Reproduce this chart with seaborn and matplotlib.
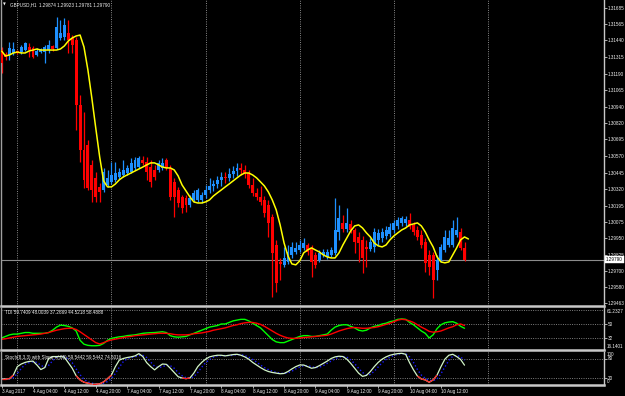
import numpy as np
import pandas as pd
import matplotlib
matplotlib.use("Agg")
import matplotlib.pyplot as plt
import matplotlib.transforms as mtrans
from matplotlib.collections import LineCollection
import seaborn as sns

# ---------------- data ----------------
header_text = "GBPUSD,H1  1.29874 1.29923 1.29781 1.29790"
tdi_text = "TDI 59.7409 48.0039 37.2669 44.5218 58.4888"
stoch_text = "Stoch(8,3,3) with Slope +(.05) 59.5442 59.5442 74.5016"

open_ = [1.31368, 1.31338, 1.31331, 1.31346, 1.31361, 1.31353, 1.31368, 1.31391, 1.31384, 1.31331,
         1.31353, 1.31353, 1.31368, 1.31399, 1.31384, 1.31459, 1.31466, 1.31497, 1.31459, 1.31444,
         1.30954, 1.30615, 1.30653, 1.30503, 1.30405, 1.30337, 1.30314, 1.30352, 1.30375, 1.30390,
         1.30412, 1.30427, 1.30442, 1.30450, 1.30480, 1.30487, 1.30540, 1.30525, 1.30487, 1.30465,
         1.30465, 1.30480, 1.30540, 1.30480, 1.30375, 1.30314, 1.30262, 1.30254, 1.30201, 1.30239,
         1.30239, 1.30239, 1.30277, 1.30314, 1.30344, 1.30359, 1.30390, 1.30412, 1.30405, 1.30435,
         1.30457, 1.30480, 1.30465, 1.30442, 1.30352, 1.30292, 1.30262, 1.30239, 1.30201, 1.30111,
         1.29900, 1.29772, 1.29750, 1.29772, 1.29825, 1.29847, 1.29862, 1.29878, 1.29900, 1.29878,
         1.29825, 1.29787, 1.29825, 1.29810, 1.29825, 1.29840, 1.29998, 1.30066, 1.30021, 1.30058,
         1.30013, 1.29960, 1.29938, 1.29885, 1.29870, 1.29885, 1.29938, 1.29953, 1.29968, 1.29983,
         1.30013, 1.30043, 1.30066, 1.30066, 1.30088, 1.30051, 1.30013, 1.29975, 1.29923, 1.29825,
         1.29825, 1.29712, 1.29787, 1.29862, 1.29900, 1.29900, 1.29975, 1.29998, 1.29874]
high = [1.31391, 1.31353, 1.31429, 1.31429, 1.31368, 1.31406, 1.31429, 1.31421, 1.31399, 1.31384,
        1.31384, 1.31406, 1.31444, 1.31406, 1.31617, 1.31594, 1.31609, 1.31594, 1.31481, 1.31466,
        1.31030, 1.30902, 1.30691, 1.30540, 1.30450, 1.30367, 1.30480, 1.30465, 1.30525, 1.30525,
        1.30480, 1.30540, 1.30503, 1.30555, 1.30563, 1.30570, 1.30570, 1.30563, 1.30540, 1.30503,
        1.30540, 1.30555, 1.30555, 1.30503, 1.30405, 1.30337, 1.30277, 1.30277, 1.30277, 1.30314,
        1.30329, 1.30299, 1.30352, 1.30405, 1.30390, 1.30420, 1.30450, 1.30450, 1.30480, 1.30495,
        1.30518, 1.30518, 1.30503, 1.30465, 1.30405, 1.30329, 1.30344, 1.30269, 1.30239, 1.30134,
        1.29938, 1.29802, 1.29885, 1.29900, 1.29923, 1.29923, 1.29938, 1.29953, 1.29915, 1.29900,
        1.29847, 1.29862, 1.29870, 1.29870, 1.29885, 1.30254, 1.30201, 1.30126, 1.30179, 1.30088,
        1.30028, 1.29998, 1.29968, 1.29938, 1.29953, 1.30028, 1.30021, 1.30028, 1.30043, 1.30066,
        1.30088, 1.30111, 1.30119, 1.30119, 1.30141, 1.30073, 1.30043, 1.30013, 1.29953, 1.29862,
        1.29847, 1.29825, 1.29908, 1.30013, 1.30013, 1.30088, 1.30111, 1.30028, 1.29923]
low = [1.31195, 1.31293, 1.31293, 1.31331, 1.31338, 1.31338, 1.31361, 1.31316, 1.31308, 1.31323,
       1.31346, 1.31271, 1.31346, 1.31361, 1.31376, 1.31444, 1.31444, 1.31346, 1.31346, 1.30766,
       1.30525, 1.30329, 1.30314, 1.30224, 1.30224, 1.30224, 1.30299, 1.30337, 1.30359, 1.30375,
       1.30397, 1.30412, 1.30427, 1.30442, 1.30465, 1.30480, 1.30503, 1.30390, 1.30337, 1.30390,
       1.30450, 1.30465, 1.30465, 1.30239, 1.30111, 1.30186, 1.30141, 1.30149, 1.30186, 1.30224,
       1.30224, 1.30216, 1.30254, 1.30292, 1.30307, 1.30329, 1.30344, 1.30367, 1.30382, 1.30405,
       1.30420, 1.30427, 1.30405, 1.30329, 1.30269, 1.30239, 1.30201, 1.30111, 1.29960, 1.29509,
       1.29546, 1.29637, 1.29734, 1.29757, 1.29802, 1.29832, 1.29847, 1.29862, 1.29825, 1.29659,
       1.29727, 1.29772, 1.29810, 1.29795, 1.29810, 1.29825, 1.29938, 1.29998, 1.29998, 1.29991,
       1.29840, 1.29772, 1.29689, 1.29734, 1.29855, 1.29847, 1.29900, 1.29923, 1.29945, 1.29960,
       1.29991, 1.30021, 1.30043, 1.30043, 1.30021, 1.29975, 1.29938, 1.29878, 1.29697, 1.29674,
       1.29501, 1.29637, 1.29772, 1.29847, 1.29885, 1.29885, 1.29960, 1.29862, 1.29781]
close = [1.31271, 1.31316, 1.31384, 1.31376, 1.31346, 1.31391, 1.31421, 1.31368, 1.31316, 1.31361,
         1.31376, 1.31391, 1.31406, 1.31376, 1.31542, 1.31497, 1.31557, 1.31444, 1.31406, 1.30954,
         1.30615, 1.30390, 1.30329, 1.30314, 1.30262, 1.30299, 1.30450, 1.30405, 1.30427, 1.30442,
         1.30450, 1.30465, 1.30480, 1.30518, 1.30540, 1.30555, 1.30518, 1.30450, 1.30375, 1.30412,
         1.30518, 1.30518, 1.30480, 1.30262, 1.30262, 1.30216, 1.30179, 1.30201, 1.30254, 1.30292,
         1.30314, 1.30277, 1.30314, 1.30344, 1.30359, 1.30390, 1.30412, 1.30405, 1.30435, 1.30457,
         1.30480, 1.30465, 1.30442, 1.30352, 1.30292, 1.30262, 1.30224, 1.30141, 1.30066, 1.29840,
         1.29614, 1.29757, 1.29802, 1.29847, 1.29885, 1.29878, 1.29900, 1.29915, 1.29847, 1.29772,
         1.29750, 1.29840, 1.29847, 1.29847, 1.29862, 1.30013, 1.30103, 1.30021, 1.30066, 1.30013,
         1.29923, 1.29915, 1.29802, 1.29870, 1.29923, 1.29998, 1.29991, 1.29998, 1.30013, 1.30036,
         1.30066, 1.30088, 1.30103, 1.30096, 1.30036, 1.29998, 1.29960, 1.29900, 1.29765, 1.29734,
         1.29637, 1.29787, 1.29885, 1.29960, 1.29953, 1.30028, 1.30013, 1.29878, 1.29790]

ma_yellow = [1.31361, 1.31323, 1.31331, 1.31346, 1.31353, 1.31346, 1.31346, 1.31361, 1.31368, 1.31376,
             1.31368, 1.31368, 1.31368, 1.31368, 1.31368, 1.31376, 1.31399, 1.31436, 1.31459, 1.31474,
             1.31481, 1.31391, 1.31218, 1.31007, 1.30781, 1.30563, 1.30382, 1.30337, 1.30337, 1.30359,
             1.30390, 1.30412, 1.30427, 1.30442, 1.30457, 1.30472, 1.30487, 1.30503, 1.30518, 1.30518,
             1.30503, 1.30487, 1.30480, 1.30480, 1.30465, 1.30420, 1.30352, 1.30307, 1.30262, 1.30224,
             1.30216, 1.30216, 1.30224, 1.30239, 1.30269, 1.30292, 1.30314, 1.30337, 1.30359, 1.30382,
             1.30405, 1.30427, 1.30442, 1.30442, 1.30427, 1.30405, 1.30375, 1.30344, 1.30299, 1.30239,
             1.30164, 1.30051, 1.29915, 1.29817, 1.29757, 1.29750, 1.29780, 1.29840, 1.29862, 1.29878,
             1.29862, 1.29847, 1.29825, 1.29810, 1.29802, 1.29802, 1.29840, 1.29900, 1.29953, 1.30006,
             1.30043, 1.30051, 1.30028, 1.29991, 1.29960, 1.29915, 1.29893, 1.29885, 1.29900, 1.29938,
             1.29968, 1.29991, 1.30013, 1.30028, 1.30051, 1.30058, 1.30066, 1.30043, 1.29998, 1.29938,
             1.29885, 1.29810, 1.29772, 1.29765, 1.29772, 1.29825, 1.29878, 1.29938, 1.29960, 1.29945]

tdi_green = [32, 34, 36, 37, 37, 38, 39, 39, 38, 38, 38, 38, 39, 42, 46, 48.5, 48, 47, 45, 41,
             29, 24, 22.5, 22, 22, 22.5, 25, 29, 31.5, 32.5, 33.5, 34, 35, 35.5, 36, 37, 38, 38.5, 38.8, 39,
             39.5, 40, 39, 35, 33.5, 33, 33.5, 34, 36, 38, 40, 42, 44, 46, 47, 48, 50, 50, 52, 54,
             55, 56, 56, 54, 51, 48, 45, 40, 35, 30, 27, 26, 26, 28, 30, 32, 34, 35, 35, 34,
             34, 35, 36, 37, 42, 46, 48, 49, 49, 47, 45, 42, 41, 42, 45, 47, 48, 50, 51, 53,
             54, 56, 56.5, 56, 52, 49, 45, 41, 38, 32, 36, 44, 49, 51.5, 52.5, 53, 51, 47, 44.5]
tdi_red = [30.3, 31, 32, 33, 34, 34.5, 35, 35.5, 36, 36.5, 37, 38, 39, 40.5, 42, 43, 44, 44.5, 44.5, 43,
           40, 36.5, 33, 29.5, 26, 24.3, 26, 28, 29.5, 30.5, 31.5, 32.5, 33.5, 34, 35, 35.5, 36, 36.5, 37, 37.5,
           38, 38, 38, 37.5, 36.5, 36, 36, 36, 36.5, 37.5, 38, 38.5, 39.5, 40.5, 42, 43, 44, 45, 46.5, 48,
           49, 50.5, 51.5, 52, 52, 51, 49.5, 47, 44, 41, 38, 35.5, 33.5, 32, 31.5, 31.5, 32, 32.5, 33, 33.5,
           34, 34.5, 35, 35.5, 37, 39, 41, 42.5, 44, 45, 45.5, 45, 44.5, 44.5, 45, 45.5, 46.5, 48, 49.5, 51,
           53, 55, 56, 55.5, 54, 52, 49, 46, 43.5, 40.5, 39.5, 40, 41, 43, 45, 46.5, 49, 50, 48]

stoch_main = [17, 17, 18, 29, 55, 63, 68, 71, 72, 60, 46, 52, 80, 86, 86, 86, 84, 67, 50, 27,
              14, 7, 4, 1, 1, 2, 8, 18, 29, 55, 75, 80, 83, 85, 88, 95, 86, 67, 55, 45,
              55, 63, 62, 50, 37, 24, 20, 18, 20, 35, 55, 68, 78, 85, 88, 90, 90, 88, 90, 92,
              93, 90, 85, 78, 68, 60, 52, 45, 40, 37, 35, 33, 34, 40, 48, 55, 60, 60, 55, 50,
              52, 58, 65, 72, 80, 85, 87, 86, 78, 65, 50, 35, 25, 28, 40, 55, 68, 78, 85, 90,
              93, 95, 96, 93, 67, 45, 26, 17, 14, 7, 14, 29, 55, 78, 90, 93, 86, 77, 59.5]
stoch_signal = [18, 17, 17, 21, 34, 49, 62, 67, 70, 68, 59, 53, 59, 73, 84, 86, 85, 79, 67, 48,
                30, 16, 8, 4, 2, 1, 4, 9, 18, 34, 53, 70, 79, 83, 85, 89, 90, 83, 69, 56,
                52, 54, 60, 58, 50, 37, 27, 21, 19, 24, 37, 53, 67, 77, 84, 88, 89, 89, 89, 90,
                92, 92, 89, 84, 77, 69, 60, 52, 46, 41, 37, 35, 34, 36, 41, 48, 54, 58, 58, 55,
                52, 53, 58, 65, 72, 79, 84, 86, 84, 76, 64, 50, 37, 29, 31, 41, 54, 67, 77, 84,
                89, 93, 95, 95, 85, 68, 46, 29, 19, 13, 12, 17, 33, 54, 74, 87, 90, 85, 74.5]

price_tick_labels = ["1.31685", "1.31565", "1.31440", "1.31315", "1.31190", "1.31065", "1.30940",
                     "1.30820", "1.30695", "1.30570", "1.30445", "1.30320", "1.30195", "1.30075",
                     "1.29950", "1.29825", "1.29700", "1.29580", "1.29463"]
last_price = 1.29790
price_range = (1.29440, 1.31745)

time_labels = ["3 Aug 2017", "4 Aug 04:00", "4 Aug 12:00", "4 Aug 20:00", "7 Aug 04:00",
               "7 Aug 12:00", "7 Aug 20:00", "8 Aug 04:00", "8 Aug 12:00", "8 Aug 20:00",
               "9 Aug 04:00", "9 Aug 12:00", "9 Aug 20:00", "10 Aug 04:00", "10 Aug 12:00"]
time_label_bars = [0, 8, 16, 24, 32, 40, 48, 56, 64, 72, 80, 88, 96, 104, 112]
day_start_bars = [4, 28, 52, 76, 100, 124]

tdi_levels = [68, 50, 32]
tdi_range = (16.1401, 71.2327)
tdi_top_label = "61.2327"
tdi_bottom_label = "16.1401"
stoch_levels = [80, 20]

# ---------------- style ----------------
sns.set_theme(style="dark")
plt.rcParams['font.family'] = ['Liberation Sans', 'DejaVu Sans']
FS = 3.3
TXT = '#f0f0f0'
SEP = '#c8c8c8'

W, H = 625, 396
fig = plt.figure(figsize=(6.25, 3.96), dpi=100)
fig.patch.set_facecolor('black')


def add_ax(x0, y0, x1, y1):
    return fig.add_axes([x0 / W, 1 - y1 / H, (x1 - x0) / W, (y1 - y0) / H])


XL = (-0.153, 153.56)
main = add_ax(1, 0, 604, 306)
tdi = add_ax(1, 307.5, 604, 350.3)
sto = add_ax(1, 352, 604, 384.5)

for ax in (main, tdi, sto):
    ax.set_facecolor('black')
    ax.grid(False)
    ax.set_xlim(*XL)
    ax.spines['top'].set_visible(False)
    ax.spines['left'].set_color('#a0a0a0')
    ax.spines['left'].set_linewidth(1.0)
    ax.spines['right'].set_color(SEP)
    ax.spines['right'].set_linewidth(1.0)
    ax.spines['bottom'].set_color(SEP)
    ax.spines['bottom'].set_linewidth(1.8)
    ax.yaxis.tick_right()
    ax.tick_params(axis='y', which='both', left=False, right=True, direction='out',
                   length=2.0, width=0.6, color=SEP, labelcolor=TXT, labelsize=FS, pad=0.8)
    ax.tick_params(axis='x', bottom=False, labelbottom=False)
    for b in day_start_bars:
        ax.axvline(b, color='#b8b8b8', ls=(0, (1.2, 1.8)), lw=0.55, zorder=0.5)

# ---------------- main price panel ----------------
o = np.array(open_); h = np.array(high); l = np.array(low); c = np.array(close)
idx = np.arange(len(o))
cols = np.where(c >= o, '#1e90ff', '#ff0000')
main.vlines(idx, l, h, colors=cols, lw=0.9, zorder=2)
main.bar(idx, np.maximum(np.abs(c - o), 0.00002), bottom=np.minimum(o, c), width=0.75,
         color=cols, linewidth=0, zorder=3)
main.axhline(last_price, color='#8c8c8c', lw=0.8, zorder=1)
sns.lineplot(x=np.arange(len(ma_yellow)), y=ma_yellow, ax=main, color='#ffff00', lw=1.1, zorder=4)
main.set_ylim(*price_range)
main.set_yticks([float(s) for s in price_tick_labels])
main.set_yticklabels(price_tick_labels)
main.set_xlabel(''); main.set_ylabel('')
blend = mtrans.blended_transform_factory(main.transAxes, main.transData)
main.text(1.003, last_price, f"{last_price:.5f}", transform=blend, fontsize=FS, color='black',
          va='center', ha='left',
          bbox=dict(boxstyle='square,pad=0.25', fc='white', ec='white', lw=0.3))

fig.text(3 / W, 1 - 5 / H, "\u25BC", fontsize=2.6, color=TXT, va='center', ha='left',
         family='DejaVu Sans')
fig.text(10 / W, 1 - 5 / H, header_text, fontsize=FS, color=TXT, va='center', ha='left')

# ---------------- TDI panel ----------------
tdi_df = pd.DataFrame({'bar': np.arange(len(tdi_green)), 'green': tdi_green, 'red': tdi_red})
for lv in tdi_levels:
    tdi.axhline(lv, color='#a8a8a8', ls=(0, (1.2, 1.8)), lw=0.55, zorder=0.5)
sns.lineplot(data=tdi_df, x='bar', y='green', ax=tdi, color='#00ff00', lw=1.0)
sns.lineplot(data=tdi_df, x='bar', y='red', ax=tdi, color='#ff0000', lw=1.0)
tdi.set_ylim(*tdi_range)
tdi.set_yticks([50, 32])
tdi.set_yticklabels(['50', '32'])
tdi.set_xlabel(''); tdi.set_ylabel('')
tdi.text(1.004, 0.96, tdi_top_label, transform=tdi.transAxes, fontsize=FS, color=TXT,
         va='top', ha='left')
tdi.text(1.004, 0.04, tdi_bottom_label, transform=tdi.transAxes, fontsize=FS, color=TXT,
         va='bottom', ha='left')
fig.text(5 / W, 1 - 313 / H, tdi_text, fontsize=FS, color=TXT, va='center', ha='left')

# ---------------- Stochastic panel ----------------
sd = pd.DataFrame({'bar': np.arange(len(stoch_main)), 'main': stoch_main, 'sig': stoch_signal})
for lv in stoch_levels:
    sto.axhline(lv, color='#a8a8a8', ls=(0, (1.2, 1.8)), lw=0.55, zorder=0.5)
sns.lineplot(data=sd, x='bar', y='sig', ax=sto, color='#1a1aff', lw=1.0, ls=':')
sns.lineplot(data=sd, x='bar', y='main', ax=sto, color='#d2f5c8', lw=0.9)
sv = np.array(stoch_main)
segs = [[(i, sv[i]), (i + 1, sv[i + 1])] for i in range(len(sv) - 1)
        if min(sv[i], sv[i + 1]) < 20]
sto.add_collection(LineCollection(segs, colors='#ff2020', linewidths=0.9, zorder=5))
sto.set_ylim(0, 100)
sto.set_yticks([80, 20])
sto.set_yticklabels(['80', '20'])
sto.text(1.004, 0.99, "100", transform=sto.transAxes, fontsize=FS, color=TXT, va='top', ha='left')
sto.text(1.004, 0.02, "0", transform=sto.transAxes, fontsize=FS, color=TXT, va='bottom', ha='left')
fig.text(5 / W, 1 - 357 / H, stoch_text, fontsize=FS, color=TXT, va='center', ha='left')

sto.tick_params(axis='x', bottom=True, labelbottom=True, direction='out', length=2.5, width=0.6,
                color=SEP, labelcolor=TXT, labelsize=FS, pad=1.0)
sto.set_xticks(time_label_bars)
sto.set_xticklabels(time_labels, ha='left', fontsize=FS, color=TXT)
sto.set_xlabel(''); sto.set_ylabel('')

fig.savefig('out.png', dpi=100, facecolor='black')
